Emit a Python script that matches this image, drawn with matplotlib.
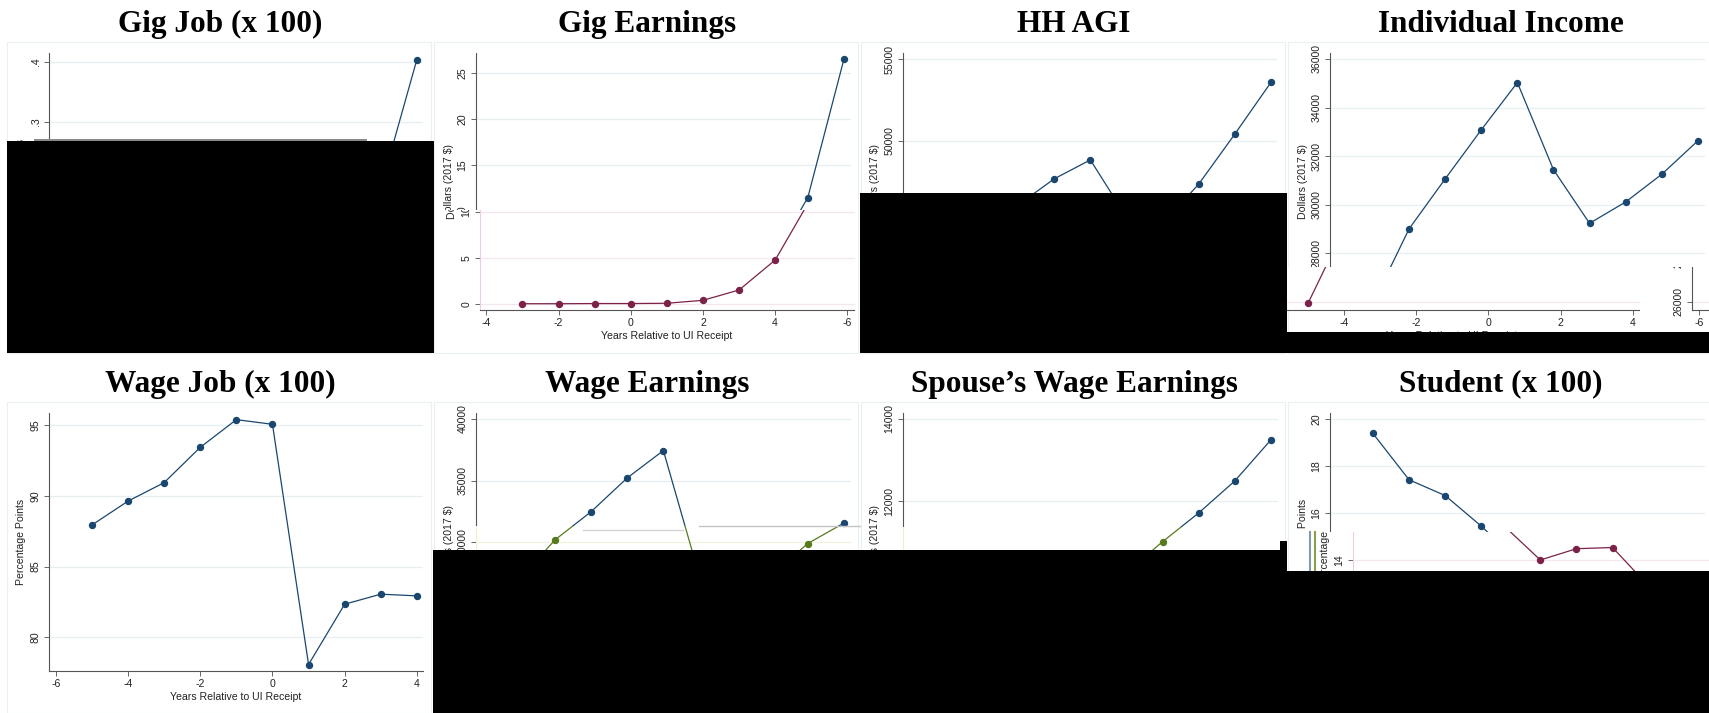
import matplotlib
matplotlib.use("Agg")
import matplotlib.pyplot as plt
from matplotlib.patches import Rectangle
from matplotlib.lines import Line2D
from matplotlib.transforms import Bbox, TransformedBbox

plt.rcParams['font.family'] = ['Liberation Sans', 'DejaVu Sans']
plt.rcParams['axes.unicode_minus'] = False

# ---- data (years relative to UI receipt) ----
years = [-5, -4, -3, -2, -1, 0, 1, 2, 3, 4]
gig_job = [0.0, 0.0, 0.0, 0.0, 0.005, 0.015, 0.03, 0.07, 0.19, 0.404]
gig_earnings = [0.0, 0.0, 0.02, 0.02, 0.05, 0.37, 1.49, 4.74, 11.5, 26.5]
hh_agi = [40400, 43300, 46050, 47650, 48810, 45300, 44900, 47320, 50390, 53560]
indiv_income = [25930, 29000, 31060, 33080, 35030, 31440, 29230, 30110, 31250, 32630]
wage_job = [87.94, 89.63, 90.94, 93.44, 95.40, 95.07, 78.06, 82.33, 83.04, 82.92]
wage_earnings = [26940, 30190, 32480, 35220, 37440, 27230, 20100, 27320, 29890, 31550]
spouse_earnings = [8050, 8600, 9100, 9550, 9950, 10260, 11010, 11710, 12490, 13490]
student = [19.39, 17.42, 16.75, 15.45, 14.01, 14.49, 14.54, 12.9, 11.3, 10.0]

xticks = [-6, -4, -2, 0, 2, 4]
xtick_labels = ['-6', '-4', '-2', '0', '2', '4']
glitch_xtick_labels = ['-4', '-2', '0', '2', '4', '-6']

NAVY = '#1a476f'
MAROON = '#7c2249'
GREEN = '#567a1c'
GRID = '#e7eff1'
SPINE = '#555555'

W, H = 1709, 713
fig = plt.figure(figsize=(W / 100, H / 100), dpi=100)

# title, series, ylim, yticks, ytick labels, ylabel, column, row
panels = [
    ("Gig Job (x 100)", gig_job, (-0.013, 0.415), [0, .1, .2, .3, .4],
     ['0', '.1', '.2', '.3', '.4'], "Percentage Points", 0, 0),
    ("Gig Earnings", gig_earnings, (-0.68, 27.2), [0, 5, 10, 15, 20, 25],
     ['0', '5', '10', '15', '20', '25'], "Dollars (2017 $)", 1, 0),
    ("HH AGI", hh_agi, (39600, 55370), [40000, 45000, 50000, 55000],
     ['40000', '45000', '50000', '55000'], "Dollars (2017 $)", 2, 0),
    ("Individual Income", indiv_income, (25658, 36247), [26000, 28000, 30000, 32000, 34000, 36000],
     ['26000', '28000', '30000', '32000', '34000', '36000'], "Dollars (2017 $)", 3, 0),
    ("Wage Job (x 100)", wage_job, (77.6, 95.87), [80, 85, 90, 95],
     ['80', '85', '90', '95'], "Percentage Points", 0, 1),
    ("Wage Earnings", wage_earnings, (19540, 40490), [20000, 25000, 30000, 35000, 40000],
     ['20000', '25000', '30000', '35000', '40000'], "Dollars (2017 $)", 1, 1),
    ("Spouse\u2019s Wage Earnings", spouse_earnings, (7860, 14146), [8000, 10000, 12000, 14000],
     ['8000', '10000', '12000', '14000'], "Dollars (2017 $)", 2, 1),
    ("Student (x 100)", student, (9.29, 20.26), [10, 12, 14, 16, 18, 20],
     ['10', '12', '14', '16', '18', '20'], "Percentage Points", 3, 1),
]

AX_TOP = [53, 413]
AX_BOT = [310, 671]
ROW_TOP = [42, 402]
ROW_BOT = [353, 713]


def px_box(x0, y0, x1, y1):
    return TransformedBbox(Bbox.from_extents(x0 / W, 1 - y1 / H, x1 / W, 1 - y0 / H),
                           fig.transFigure)


def draw_panel(p, dx=0, color=NAVY, grid=GRID, spine=SPINE, xlabels=None, clip=None):
    title, vals, ylim, yt, ytl, ylabel, col, row = p
    cs = 427 * col + dx
    top, bot = AX_TOP[row], AX_BOT[row]
    ax = fig.add_axes([(cs + 49) / W, 1 - bot / H, 374 / W, (bot - top) / H])
    ax.plot(years, vals, color=color, lw=0.9, marker='o', ms=4.3, mfc=color, mec=color)
    ax.set_xlim(-6.19, 4.17)
    ax.set_ylim(*ylim)
    ax.set_xticks(xticks)
    ax.set_xticklabels(xlabels if xlabels else xtick_labels)
    ax.set_yticks(yt)
    ax.set_yticklabels(ytl, rotation=90, va='center')
    ax.grid(axis='y', color=grid, lw=0.9)
    ax.set_axisbelow(True)
    ax.spines['top'].set_visible(False)
    ax.spines['right'].set_visible(False)
    ax.spines['left'].set_color(spine)
    ax.spines['bottom'].set_color(SPINE)
    for s in ('left', 'bottom'):
        ax.spines[s].set_linewidth(0.8)
    ax.tick_params(direction='out', length=3.5, width=0.7, color='#666666',
                   labelcolor='#222222', labelsize=7.6)
    ax.tick_params(axis='x', pad=2.5)
    ax.tick_params(axis='y', pad=2.5)
    ax.set_xlabel("Years Relative to UI Receipt", fontsize=7.6, color='#222222', labelpad=2)
    ax.set_ylabel(ylabel, fontsize=7.6, color='#222222', labelpad=3)
    if clip is not None:
        bb = px_box(*clip)
        arts = [ax.patch, ax.xaxis.label, ax.yaxis.label] + list(ax.spines.values()) + ax.lines
        for axis in (ax.xaxis, ax.yaxis):
            for t in axis.get_major_ticks():
                arts += [t.tick1line, t.tick2line, t.gridline, t.label1, t.label2]
        for a in arts:
            a.set_clip_on(True)
            a.set_clip_box(bb)
    return ax


# panel frames and titles
for p in panels:
    col, row = p[6], p[7]
    cs = 427 * col
    fig.add_artist(Rectangle(((cs + 7) / W, 1 - ROW_BOT[row] / H), 424 / W,
                             (ROW_BOT[row] - ROW_TOP[row]) / H, transform=fig.transFigure,
                             fill=False, ec='#eaf0f2', lw=0.8, zorder=-1))
    fig.text((cs + 220) / W, 1 - (31.7 + 360 * row) / H, p[0], ha='center', va='baseline',
             fontsize=22.5, fontweight='bold', family='Liberation Serif')

# main (top) part of each panel, clipped where the rendering breaks off
main_clips = {
    1: (427, 0, 860, 210),
    3: (1281, 0, 1709, 267),
    5: (427, 360, 860, 525.5),
    6: (854, 360, 1287, 526.5),
    7: (1281, 360, 1709, 531.7),
}
for i, p in enumerate(panels):
    draw_panel(p, clip=main_clips.get(i))

# broken lower tiles
draw_panel(panels[1], dx=3.5, color=MAROON, grid='#f4e6ef', spine='#efc9e6',
           xlabels=glitch_xtick_labels, clip=(434, 210, 860, 353))
draw_panel(panels[3], dx=-65, color=MAROON, grid='#f4e6ef',
           clip=(1287, 267, 1709, 332))
draw_panel(panels[3], dx=362, color=MAROON, grid='#f4e6ef',
           clip=(1287, 267, 1709, 332))
draw_panel(panels[5], color=GREEN, grid='#f1f1df', spine='#f3eec4',
           clip=(427, 525.5, 860, 551))
draw_panel(panels[6], color=GREEN, grid='#f1f1df', spine='#f3eec4',
           clip=(860, 526.5, 1287, 551))
draw_panel(panels[7], dx=23, color=MAROON, grid='#f4e6ef', spine='#efc9e6',
           clip=(1287, 531.7, 1709, 572))

# thin seams left between the broken tiles
seams = [
    ((699, 860), (526, 526), '#c4c4c4', 1.0),
    ((583, 683), (530, 530), '#d4d4d4', 1.0),
    ((1310, 1310), (531.7, 571), '#7f9aa8', 1.5),
    ((1315, 1315), (531.7, 571), '#86a050', 1.5),
]
for xs, ys, c, lw in seams:
    fig.add_artist(Line2D([x / W for x in xs], [1 - y / H for y in ys],
                          transform=fig.transFigure, color=c, lw=lw, zorder=5))

# black blocks where the source image failed to render
blocks = [
    (7.5, 140.7, 434, 353, 'black'),
    (34, 138.8, 367, 140.9, '#8a8a8a'),
    (860, 193.3, 1287, 353, 'black'),
    (1287, 331.7, 1709, 353, 'black'),
    (433.3, 550, 1287, 713, 'black'),
    (1280, 541, 1287, 713, 'black'),
    (1287, 570.7, 1709, 713, 'black'),
]
for x0, y0, x1, y1, c in blocks:
    fig.add_artist(Rectangle((x0 / W, 1 - y1 / H), (x1 - x0) / W, (y1 - y0) / H,
                             transform=fig.transFigure, fc=c, ec='none', zorder=10))

fig.savefig("out.png", dpi=100)
